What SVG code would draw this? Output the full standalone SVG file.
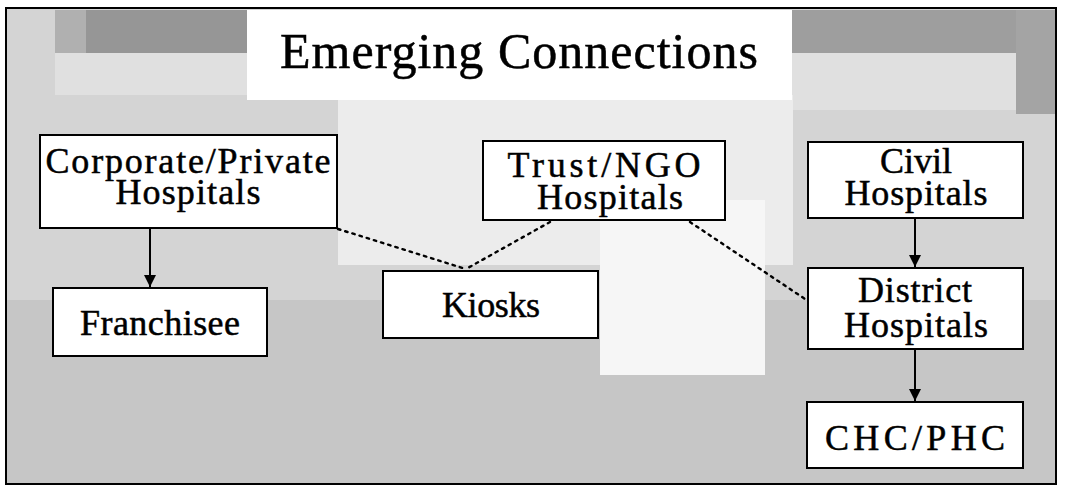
<svg xmlns="http://www.w3.org/2000/svg" width="1067" height="491" viewBox="0 0 1067 491">
<style>
.box{fill:#ffffff;stroke:#000;stroke-width:2}
.lbl{font-family:"Liberation Serif","DejaVu Serif",serif;font-size:36px;fill:#000;stroke:#000;stroke-width:0.5;text-anchor:middle}
.arr{stroke:#000;stroke-width:2;fill:none;marker-end:url(#ah)}
.dot{stroke:#000;stroke-width:2.4;fill:none;stroke-dasharray:2.5 5;stroke-linecap:round}
</style>
<defs>
<marker id="ah" viewBox="0 0 10 10" refX="10" refY="5" markerWidth="15" markerHeight="12" markerUnits="userSpaceOnUse" orient="auto">
<path d="M0,0 L10,5 L0,10 z" fill="#000"/>
</marker>
</defs>
<g id="background">
<rect x="0" y="0" width="1067" height="491" fill="#ffffff"/>
<rect x="6" y="8" width="1050" height="476" fill="#d4d4d4"/>
<rect x="6" y="300" width="1050" height="184" fill="#c6c6c6"/>
<rect x="55" y="53" width="192" height="42" fill="#e0e0e0"/>
<rect x="55" y="10" width="192" height="43" fill="#b0b0b0"/>
<rect x="86" y="10" width="161" height="43" fill="#969696"/>
<rect x="792" y="53" width="224" height="57" fill="#e0e0e0"/>
<rect x="792" y="10" width="264" height="43" fill="#9e9e9e"/>
<rect x="1016" y="10" width="40" height="104" fill="#a4a4a4"/>
<rect x="338" y="95" width="455" height="170" fill="#ececec"/>
<rect x="600" y="200" width="165" height="175" fill="#f6f6f6"/>
<rect x="247" y="10" width="545" height="90" fill="#ffffff"/>
<rect x="6" y="8" width="1050" height="476" fill="none" stroke="#000" stroke-width="2"/>
</g>
<g id="title">
<text x="519" y="68" font-family="'Liberation Serif','DejaVu Serif',serif" font-size="50" stroke="#000" stroke-width="0.5" text-anchor="middle" textLength="478" lengthAdjust="spacing">Emerging Connections</text>
</g>
<g id="connectors">
<line class="arr" x1="150" y1="229" x2="150" y2="287"/>
<line class="arr" x1="915" y1="219" x2="915" y2="267"/>
<line class="arr" x1="915" y1="350" x2="915" y2="401"/>
<path class="dot" d="M338,229 L466,269"/>
<path class="dot" d="M550,222 L466,269"/>
<path class="dot" d="M690,222 L808,301"/>
</g>
<g id="corporate">
<rect class="box" x="40" y="135" width="297" height="93"/>
<text class="lbl" x="188" y="173" textLength="285" lengthAdjust="spacing">Corporate/Private</text>
<text class="lbl" x="188" y="204" textLength="145" lengthAdjust="spacing">Hospitals</text>
</g>
<g id="trust">
<rect class="box" x="483" y="141" width="242" height="79"/>
<text class="lbl" x="604" y="177" textLength="193" lengthAdjust="spacing">Trust/NGO</text>
<text class="lbl" x="610" y="209" textLength="146" lengthAdjust="spacing">Hospitals</text>
</g>
<g id="civil">
<rect class="box" x="808" y="142" width="215" height="76"/>
<text class="lbl" x="916" y="173">Civil</text>
<text class="lbl" x="916" y="205" textLength="143" lengthAdjust="spacing">Hospitals</text>
</g>
<g id="franchisee">
<rect class="box" x="53" y="288" width="214" height="68"/>
<text class="lbl" x="160" y="335" textLength="160" lengthAdjust="spacing">Franchisee</text>
</g>
<g id="kiosks">
<rect class="box" x="383" y="271" width="215" height="67"/>
<text class="lbl" x="491" y="317" textLength="98" lengthAdjust="spacing">Kiosks</text>
</g>
<g id="district">
<rect class="box" x="808" y="268" width="215" height="81"/>
<text class="lbl" x="915" y="302" textLength="114" lengthAdjust="spacing">District</text>
<text class="lbl" x="916" y="337" textLength="144" lengthAdjust="spacing">Hospitals</text>
</g>
<g id="chcphc">
<rect class="box" x="807" y="402" width="216" height="66"/>
<text class="lbl" x="915" y="450" textLength="180" lengthAdjust="spacing">CHC/PHC</text>
</g>
</svg>
